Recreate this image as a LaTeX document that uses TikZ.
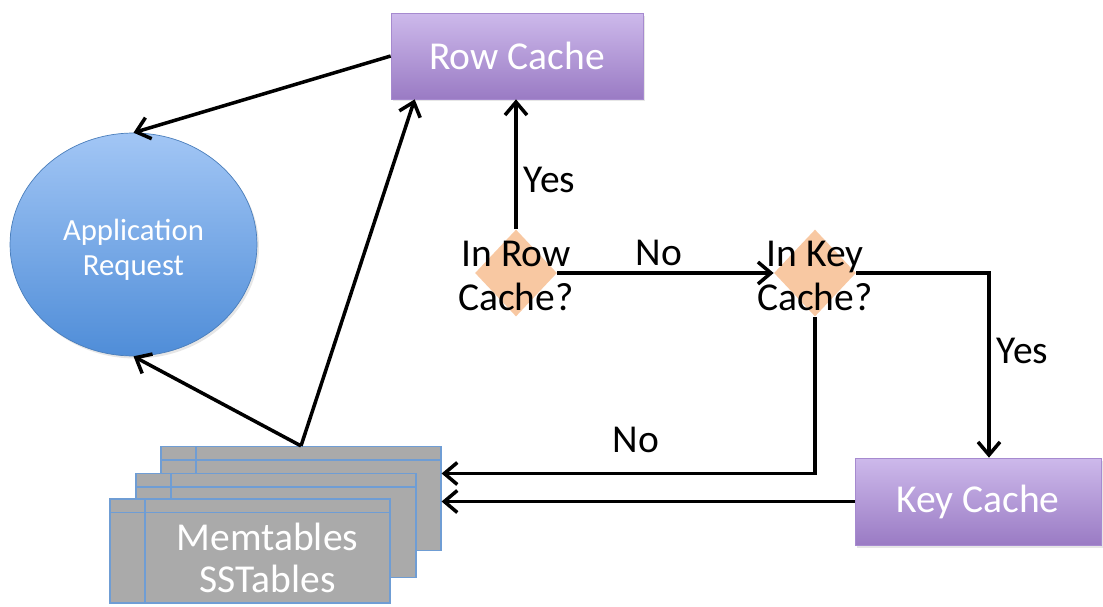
\documentclass[tikz,border=0pt]{standalone}
\usepackage{fontspec}
\setmainfont{Carlito}
\usepackage{tikz}
\usetikzlibrary{shapes,arrows,shadows}
\usetikzlibrary{arrows,calc,positioning}
\usetikzlibrary{arrows.meta}
\definecolor{rowtop}{HTML}{CDB9EB}
\definecolor{rowbot}{HTML}{9A7BC4}
\definecolor{rowedge}{HTML}{A68ACF}
\definecolor{apptop}{HTML}{A2C6F5}
\definecolor{appbot}{HTML}{4F8DD8}
\definecolor{appedge}{HTML}{4A7EBB}
\definecolor{peach}{HTML}{F8C8A2}
\definecolor{tgray}{HTML}{AAAAAA}
\definecolor{tblue}{HTML}{6F9DD4}
\tikzset{
	arrow/.style={draw, line width=2pt, -{Straight Barb[length=2.6mm,width=4.4mm]}},
	bigtext/.style={font=\fontsize{22.5}{26}\selectfont},
}

\begin{document}
\begin{tikzpicture}[x=0.02cm, y=-0.02cm,
	cachenode/.style={rectangle, draw=rowedge, top color=rowtop, bottom color=rowbot, text=white, bigtext,
		drop shadow={opacity=0.2, shadow xshift=0.04cm, shadow yshift=-0.05cm}},
	decisionnode/.style={diamond, fill=peach, inner sep=0pt, minimum width=1.64cm, minimum height=1.74cm},
	decisiontext/.style={align=center, text=black, font=\fontsize{22.5}{25.5}\selectfont},
	appnode/.style={ellipse, draw=appedge, top color=apptop, bottom color=appbot, text=white, align=center,
		font=\fontsize{17.5}{20}\selectfont, minimum width=4.94cm, minimum height=4.46cm,
		drop shadow={opacity=0.2, shadow xshift=0.04cm, shadow yshift=-0.05cm}},
	tablenode/.style={rectangle, draw=tblue, fill=tgray, line width=0.7pt, minimum width=5.6cm, minimum height=2.08cm,
		path picture={
			\draw[tblue, line width=0.7pt] ([yshift=-0.27cm]path picture bounding box.north west) -- ([yshift=-0.27cm]path picture bounding box.north east);
			\draw[tblue, line width=0.7pt] ([xshift=0.7cm]path picture bounding box.north west) -- ([xshift=0.7cm]path picture bounding box.south west);
		}},
	lbl/.style={bigtext, text=black},
	]
	\useasboundingbox (0,0) rectangle (1103,606);
	%Nodes
	\node[cachenode, minimum width=5.04cm, minimum height=1.72cm] (rowcache) at (517,56) {Row Cache};
	\node[cachenode, minimum width=4.92cm, minimum height=1.74cm] (keycache) at (978,501.5) {Key Cache};
	\node[appnode] (app) at (133.5,244.5) {};
	\node[text=white, align=center, font=\fontsize{17.5}{20}\selectfont] (apptext) at (133.5,250) {Application\\Request};
	\node[decisionnode, label={[decisiontext, yshift=-0.06cm]center:In Row\\Cache?}] (rowq) at (516,273) {};
	\node[decisionnode, label={[decisiontext, yshift=-0.06cm]center:In Key\\Cache?}] (keyq) at (815,273) {};
	\node[tablenode] (back) at (301,498.5) {};
	\node[tablenode] (middle) at (276,525.5) {};
	\node[tablenode, label={[xshift=0.35cm, yshift=-0.14cm, align=center, text=white, font=\fontsize{22.5}{24}\selectfont]center:Memtables\\SSTables}] (front) at (250,551) {};
	%Lines
	\draw[arrow] (rowcache.west) -- (app.north);
	\draw[arrow] (rowq.north) -- node[lbl, right, pos=0.38] {Yes} (rowq.north |- rowcache.south);
	\draw[arrow] (rowq.east) -- node[lbl, above, pos=0.47] {No} (keyq.west);
	\draw[arrow] (keyq.east) -| node[lbl, right, pos=0.71] {Yes} ([xshift=0.22cm]keycache.north);
	\draw[arrow] (keyq.south) |- node[lbl, above, pos=0.74, yshift=0.26cm] {No} ([yshift=0.5cm]back.east);
	\draw[arrow] (keycache.west) -- (keycache.west -| back.east);
	\draw[arrow] (back.north) -- ([xshift=0.48cm]rowcache.south west);
	\draw[arrow] (back.north) -- (app.south);
\end{tikzpicture}
\end{document}
